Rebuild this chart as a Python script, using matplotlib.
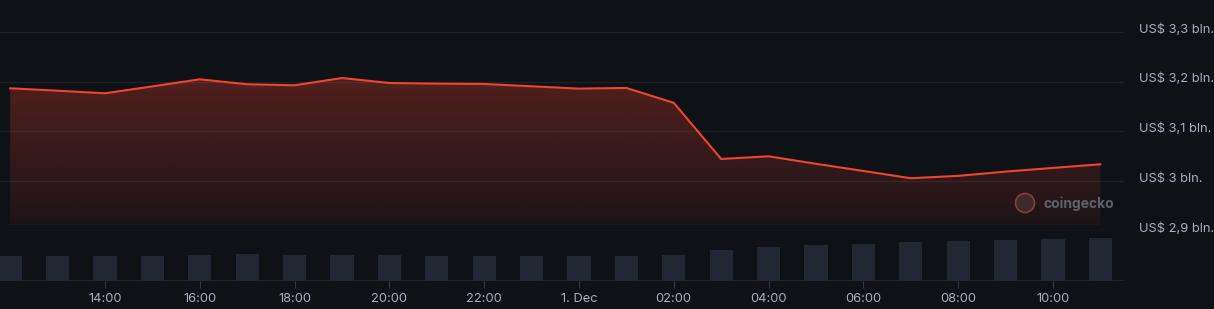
import matplotlib
matplotlib.use("Agg")
import matplotlib.pyplot as plt
import matplotlib.dates as mdates
import matplotlib.transforms as mtransforms
from matplotlib.patches import Ellipse
from matplotlib.ticker import FuncFormatter
import numpy as np
import pandas as pd

# hourly samples, 30 Nov 12:00 -> 1 Dec 11:00
times = pd.date_range("2024-11-30 12:00", periods=24, freq="h")

# market cap in US$ bln
market_cap = [3.1866, 3.1818, 3.1766, 3.1905, 3.2047, 3.1947, 3.1927, 3.2073,
              3.1973, 3.1960, 3.1953, 3.1907, 3.1860, 3.1873, 3.1575, 3.0447,
              3.0500, 3.0350, 3.0206, 3.0060, 3.0107, 3.0193, 3.0267, 3.0340]

# volume (relative units)
volume = [25, 25, 25, 25, 26, 27, 26, 26, 26, 25, 25, 25,
          25, 25, 26, 31, 34, 36, 37, 39, 40, 41, 42, 43]

price_ticks = [2.9, 3.0, 3.1, 3.2, 3.3]
time_ticks = ["2024-11-30 14:00", "2024-11-30 16:00", "2024-11-30 18:00",
              "2024-11-30 20:00", "2024-11-30 22:00", "2024-12-01 00:00",
              "2024-12-01 02:00", "2024-12-01 04:00", "2024-12-01 06:00",
              "2024-12-01 08:00", "2024-12-01 10:00"]

bg = "#0e1116"
grid_c = "#1d222a"
line_c = "#f0442f"
text_c = "#a5aebf"
bar_c = "#222833"

plt.rcParams["font.family"] = ["Inter", "DejaVu Sans"]

W, H = 1214, 309
fig = plt.figure(figsize=(W / 100, H / 100), dpi=100, facecolor=bg)

right = 1124 / W
ax = fig.add_axes([0, (H - 231) / H, right, 231 / H])
axv = fig.add_axes([0, (H - 281) / H, right, 49 / H], sharex=ax)

for a in (ax, axv):
    a.set_facecolor(bg)
    for s in a.spines.values():
        s.set_visible(False)

x = mdates.date2num(times)
hour = 1 / 24
ax.set_xlim(x[0] - 0.215 * hour, x[0] + 23.5 * hour)
ax.set_ylim(2.9, 3.364)

# price line + gradient fill
base = 2.912
poly = ax.fill_between(x, market_cap, base, color="none", lw=0)
top = max(market_cap)
alpha = np.linspace(0.30, 0.07, 256)
grad = np.zeros((256, 1, 4))
grad[:, 0, 0] = 240 / 255
grad[:, 0, 1] = 68 / 255
grad[:, 0, 2] = 47 / 255
grad[:, 0, 3] = alpha
img = ax.imshow(grad, extent=[x[0], x[-1], base, top], aspect="auto",
                origin="upper", zorder=1)
img.set_clip_path(poly.get_paths()[0], transform=ax.transData)
ax.plot(x, market_cap, color=line_c, lw=1.5, zorder=3, solid_joinstyle="miter")

ax.set_yticks(price_ticks)
ax.yaxis.grid(True, color=grid_c, lw=1)
ax.xaxis.grid(False)
ax.set_axisbelow(True)
ax.yaxis.tick_right()
ax.tick_params(axis="y", length=0, pad=10.5, labelsize=9.3, labelcolor=text_c)
ax.tick_params(axis="x", bottom=False, labelbottom=False)


def fmt(v, pos):
    s = ("%.1f" % v).rstrip("0").rstrip(".").replace(".", ",")
    return "US$ %s bln." % s


ax.yaxis.set_major_formatter(FuncFormatter(fmt))
off = mtransforms.ScaledTranslation(0, 4 / 100, fig.dpi_scale_trans)
for lab in ax.get_yticklabels():
    lab.set_transform(lab.get_transform() + off)

# volume bars
axv.bar(x, volume, width=0.49 * hour, color=bar_c, zorder=2)
axv.set_ylim(0, 49)
axv.set_yticks([])
axv.axhline(0, color="#242931", lw=1.2, zorder=3)
axv.set_xticks(mdates.date2num(pd.to_datetime(time_ticks)))


def tfmt(v, pos):
    d = mdates.num2date(v)
    if d.hour == 0:
        return "%d. %s" % (d.day, d.strftime("%b"))
    return d.strftime("%H:%M")


axv.xaxis.set_major_formatter(FuncFormatter(tfmt))
axv.tick_params(axis="x", length=5, width=0.8, color="#333944", pad=4,
                labelsize=9.3, labelcolor=text_c, direction="out")

# watermark
fig.add_artist(Ellipse((1025 / W, 1 - 203 / H), 19 / W, 19 / H,
                       facecolor="#3d2a2d", edgecolor="#8a3c3c", lw=1.2,
                       transform=fig.transFigure))
fig.text(1043 / W, 1 - 204 / H, "coingecko", color="#5d626a",
         fontsize=10, fontweight="bold", va="center", ha="left")

fig.savefig("out.png", dpi=100, facecolor=bg)
